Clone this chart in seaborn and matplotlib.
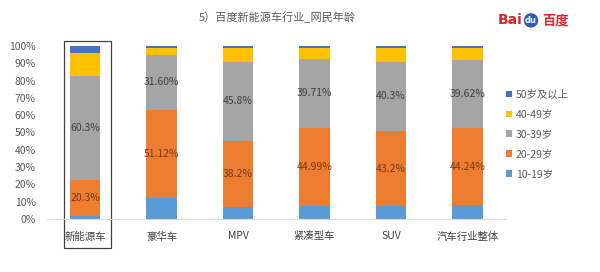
import matplotlib
matplotlib.use("Agg")
import matplotlib.pyplot as plt
import seaborn as sns
import pandas as pd
import numpy as np
from matplotlib.patches import Patch, Rectangle

sns.set_style("white")
plt.rcParams['font.family'] = ['Noto Sans CJK SC', 'DejaVu Sans']

categories = ["新能源车", "豪华车", "MPV", "紧凑型车", "SUV", "汽车行业整体"]
series_names = ["10-19岁", "20-29岁", "30-39岁", "40-49岁", "50岁及以上"]
age_10_19 = [2.0, 12.0, 7.0, 7.7, 7.5, 8.1]
age_20_29 = [20.3, 51.12, 38.2, 44.99, 43.2, 44.24]
age_30_39 = [60.3, 31.60, 45.8, 39.71, 40.3, 39.62]
age_40_49 = [13.3, 4.3, 7.8, 6.3, 7.7, 6.8]
age_50_up = [4.1, 0.98, 1.2, 1.3, 1.3, 1.24]
labels_20_29 = ["20.3%", "51.12%", "38.2%", "44.99%", "43.2%", "44.24%"]
labels_30_39 = ["60.3%", "31.60%", "45.8%", "39.71%", "40.3%", "39.62%"]
title = "5）百度新能源车行业_网民年龄"

colors = ["#5B9BD5", "#ED7D31", "#A5A5A5", "#FFC000", "#4472C4"]

series = [age_10_19, age_20_29, age_30_39, age_40_49, age_50_up]
cum = np.cumsum(np.array(series), axis=0)

fig = plt.figure(figsize=(6, 2.72), dpi=100)
ax = fig.add_axes([0.078, 0.195, 0.765, 0.636])

# draw from top layer downward so each lower cumulative covers the previous
for i in range(len(series) - 1, -1, -1):
    df = pd.DataFrame({"cat": categories, "val": cum[i]})
    sns.barplot(data=df, x="cat", y="val", order=categories, color=colors[i],
                width=0.4, saturation=1, ax=ax, linewidth=0, errorbar=None)

# data labels
for j in range(len(categories)):
    y1 = (cum[0][j] + cum[1][j]) / 2
    y2 = (cum[1][j] + cum[2][j]) / 2
    ax.text(j, y1, labels_20_29[j], ha="center", va="center", fontsize=7.5,
            color="#7a3a12")
    ax.text(j, y2, labels_30_39[j], ha="center", va="center", fontsize=7.5,
            color="#404040")

ax.set_ylim(0, 100)
ax.set_xlim(-0.5, len(categories) - 0.5)
ax.set_yticks(np.arange(0, 101, 10))
ax.set_yticklabels([f"{v}%" for v in range(0, 101, 10)])
ax.tick_params(axis="y", labelsize=7.5, colors="#595959", length=0, pad=8)
ax.tick_params(axis="x", labelsize=7.5, colors="#404040", length=0, pad=9)
ax.set_xlabel("")
ax.set_ylabel("")
for s in ["top", "right", "left"]:
    ax.spines[s].set_visible(False)
ax.spines["bottom"].set_color("#d9d9d9")
ax.spines["bottom"].set_linewidth(0.8)

# highlight box around first category
rect = Rectangle((-0.28, -16.5), 0.62, 119.5, fill=False, edgecolor="#404040",
                 linewidth=0.9, clip_on=False, transform=ax.transData)
ax.add_patch(rect)

# legend
handles = [Patch(facecolor=colors[i], edgecolor="none", label=series_names[i])
           for i in range(len(series) - 1, -1, -1)]
leg = ax.legend(handles=handles, loc="center left", bbox_to_anchor=(0.98, 0.49),
                frameon=False, fontsize=7.5, handlelength=0.55, handleheight=0.55,
                handletextpad=0.4, labelspacing=0.95)
for t in leg.get_texts():
    t.set_color("#595959")

# title
fig.text(0.462, 0.935, title, ha="center", va="center", fontsize=8, color="#595959")

# Baidu logo as text
fig.text(0.83, 0.925, "Bai", ha="left", va="center", fontsize=10, color="#D7262B",
         fontweight="bold", family=["DejaVu Sans"])
fig.text(0.885, 0.925, "du", ha="center", va="center", fontsize=6, color="white",
         fontweight="bold", family=["DejaVu Sans"],
         bbox=dict(boxstyle="circle,pad=0.15", fc="#2E5CB8", ec="none"))
fig.text(0.903, 0.925, "百度", ha="left", va="center", fontsize=9.5, color="#D7262B",
         fontweight="bold")

fig.savefig("out.png", dpi=100, facecolor="white")
